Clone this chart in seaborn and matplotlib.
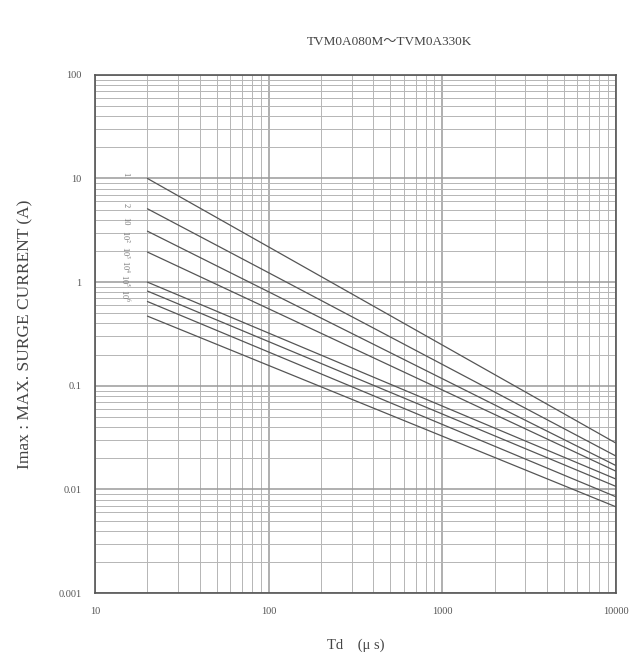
import seaborn as sns
import matplotlib.pyplot as plt
from matplotlib.ticker import LogLocator, FixedLocator, NullFormatter
import pandas as pd

# pulse counts, one line each
pulse_labels = ['1', '2', '10', '10$^2$', '10$^3$', '10$^4$', '10$^5$', '10$^6$']
td_start = 20
td_end = 10000
imax_start = [10.0, 5.1, 3.1, 1.95, 1.0, 0.82, 0.65, 0.47]
imax_end = [0.028, 0.021, 0.017, 0.015, 0.0126, 0.0107, 0.0085, 0.0068]
label_y = [11.0, 5.6, 3.9, 2.75, 1.95, 1.4, 1.03, 0.74]

y_ticks = [0.001, 0.01, 0.1, 1, 10, 100]
y_ticklabels = ['0.001', '0.01', '0.1', '1', '10', '100']
x_ticks = [10, 100, 1000, 10000]
x_ticklabels = ['10', '100', '1000', '10000']

rows = []
for lab, a, b in zip(pulse_labels, imax_start, imax_end):
    rows.append({'pulses': lab, 'Td': td_start, 'Imax': a})
    rows.append({'pulses': lab, 'Td': td_end, 'Imax': b})
df = pd.DataFrame(rows)

sns.set_style('white')
serif = ['Liberation Serif', 'Noto Sans CJK JP']
plt.rcParams['font.family'] = serif
plt.rcParams['mathtext.fontset'] = 'stix'

fig = plt.figure(figsize=(6.39, 6.62), dpi=100)
ax = fig.add_axes([0.149, 0.104, 0.815, 0.783])

ax.set_xscale('log')
ax.set_yscale('log')
ax.set_xlim(10, 10000)
ax.set_ylim(0.001, 100)

sns.lineplot(data=df, x='Td', y='Imax', units='pulses', estimator=None,
             color='#555555', linewidth=0.9, ax=ax)

ax.xaxis.set_major_locator(FixedLocator(x_ticks))
ax.yaxis.set_major_locator(FixedLocator(y_ticks))
ax.xaxis.set_minor_locator(LogLocator(base=10, subs=range(2, 10)))
ax.yaxis.set_minor_locator(LogLocator(base=10, subs=range(2, 10)))
ax.xaxis.set_minor_formatter(NullFormatter())
ax.yaxis.set_minor_formatter(NullFormatter())
ax.set_xticklabels(x_ticklabels)
ax.set_yticklabels(y_ticklabels)

ax.grid(which='major', color='#9a9a9a', linewidth=1.1)
ax.grid(which='minor', color='#b5b5b5', linewidth=0.7)
ax.tick_params(which='both', length=0, labelsize=7.5, colors='#555555', pad=10)
for s in ax.spines.values():
    s.set_color('#555555')
    s.set_linewidth(1.2)

for lab, yv in zip(pulse_labels, label_y):
    ax.text(14.9, yv, lab, fontsize=6, color='#777777', rotation=-90,
            ha='center', va='center')

ax.set_xlabel('Td\u3000(\u03bc s)', fontsize=10.5, color='#444444', labelpad=16)
ax.set_ylabel('Imax : MAX. SURGE CURRENT (A)', fontsize=12.5, color='#444444', labelpad=18)
fig.text(0.61, 0.936, 'TVM0A080M\uff5eTVM0A330K', fontsize=9.5,
         color='#444444', ha='center', va='center', family=serif)

fig.savefig('out.png', dpi=100, facecolor='white')
